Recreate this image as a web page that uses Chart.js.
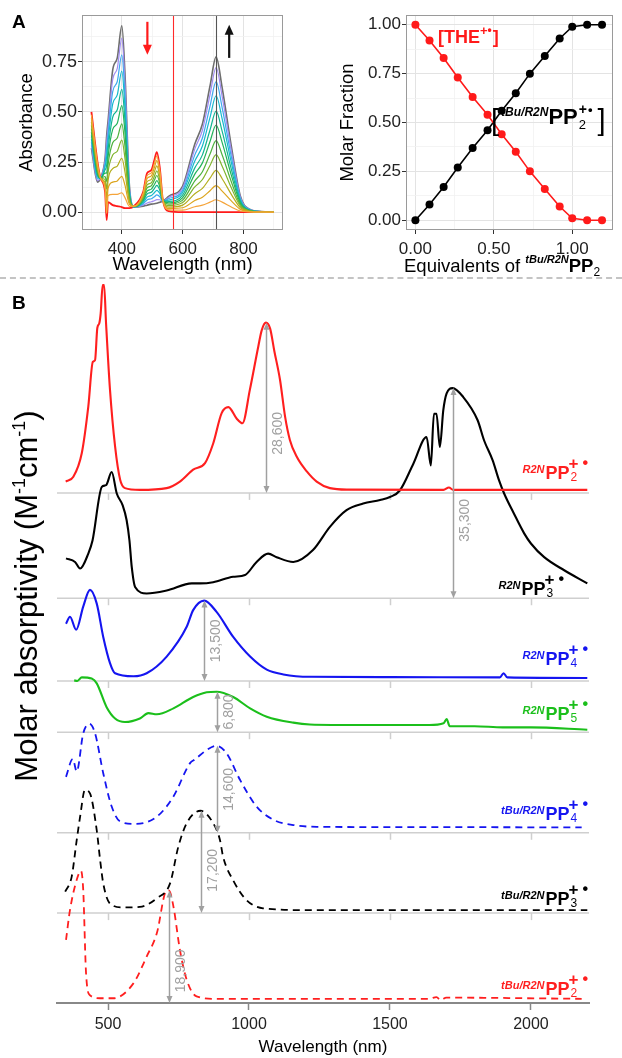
<!DOCTYPE html>
<html><head><meta charset="utf-8">
<script src="https://cdn.jsdelivr.net/npm/chart.js@4.4.1/dist/chart.umd.min.js"></script>
<style>
html,body{margin:0;padding:0;background:#fff;}
body{width:622px;height:1058px;position:relative;overflow:hidden}
canvas{position:absolute;display:block}
#sep{position:absolute;left:0;top:277px;width:622px;height:0;border-top:2px dashed #c4c4c4}
</style></head>
<body>
<canvas id="cA1" width="300" height="280" style="left:0px;top:0px"></canvas>
<canvas id="cA2" width="322" height="280" style="left:300px;top:0px"></canvas>
<div id="sep"></div>
<canvas id="cB" width="622" height="780" style="left:0px;top:282px"></canvas>
<script>
const FF = "'Liberation Sans', Arial, Helvetica, sans-serif";
Chart.defaults.font.family = FF;
Chart.defaults.animation = false;

// ================= Panel A (left): titration spectra =================
const wlTitr  = [300,320,330,345,350,355,370,385,400,410,425,440,470,483,497,507,515,525,535,555,600,640,665,690,710,730,760,790,820,860,900];
const absTHE  = [0.50,0.25,0.17,0.10,-0.04,0.05,0.035,0.03,0.025,0.02,0.02,0.03,0.10,0.195,0.21,0.26,0.30,0.22,0.06,0.005,0,0,0,0,0,0,0,0,0,0,0];
const absEq08 = [0.486,0.242,0.17,0.114,-0.006,0.083,0.089,0.089,0.097,0.074,0.029,0.03,0.094,0.182,0.196,0.243,0.280,0.206,0.06,0.011,0.010,0.027,0.035,0.050,0.062,0.050,0.026,0.006,0.001,0,0];
const absEq17 = [0.469,0.233,0.17,0.129,0.031,0.120,0.150,0.156,0.179,0.136,0.039,0.029,0.088,0.168,0.181,0.223,0.257,0.191,0.059,0.018,0.022,0.058,0.075,0.107,0.132,0.105,0.056,0.014,0.003,0.001,0];
const absEq27 = [0.451,0.223,0.17,0.146,0.073,0.161,0.217,0.230,0.269,0.204,0.050,0.029,0.081,0.152,0.164,0.201,0.231,0.174,0.059,0.025,0.035,0.092,0.119,0.170,0.209,0.167,0.089,0.022,0.004,0.001,0];
const absEq37 = [0.433,0.213,0.17,0.163,0.115,0.202,0.285,0.304,0.360,0.272,0.061,0.028,0.074,0.136,0.147,0.179,0.206,0.157,0.058,0.033,0.048,0.126,0.163,0.233,0.287,0.229,0.122,0.030,0.006,0.001,0];
const absEq46 = [0.417,0.204,0.17,0.178,0.153,0.239,0.346,0.370,0.441,0.333,0.071,0.028,0.068,0.121,0.132,0.160,0.183,0.142,0.058,0.040,0.060,0.156,0.202,0.290,0.357,0.285,0.152,0.037,0.007,0.001,0];
const absEq56 = [0.399,0.194,0.17,0.195,0.195,0.280,0.413,0.444,0.532,0.401,0.082,0.027,0.061,0.105,0.115,0.138,0.157,0.125,0.057,0.047,0.073,0.190,0.246,0.353,0.434,0.347,0.185,0.045,0.008,0.002,0];
const absEq65 = [0.383,0.185,0.17,0.211,0.233,0.317,0.474,0.511,0.613,0.462,0.092,0.027,0.054,0.091,0.099,0.118,0.134,0.109,0.057,0.054,0.085,0.221,0.286,0.410,0.504,0.403,0.215,0.052,0.010,0.002,0];
const absEq75 = [0.365,0.175,0.17,0.228,0.275,0.358,0.541,0.585,0.704,0.530,0.103,0.026,0.048,0.075,0.083,0.097,0.109,0.093,0.056,0.061,0.098,0.255,0.330,0.473,0.581,0.465,0.248,0.060,0.011,0.002,0];
const absEq84 = [0.349,0.166,0.17,0.243,0.313,0.394,0.602,0.652,0.785,0.591,0.112,0.026,0.041,0.061,0.067,0.077,0.086,0.077,0.056,0.068,0.109,0.286,0.370,0.529,0.651,0.521,0.277,0.067,0.013,0.003,0];
const absEq93 = [0.333,0.157,0.17,0.258,0.351,0.431,0.663,0.718,0.867,0.652,0.122,0.025,0.035,0.046,0.052,0.057,0.063,0.062,0.055,0.075,0.121,0.316,0.409,0.586,0.721,0.577,0.307,0.074,0.014,0.003,0];
const absFinal= [0.32,0.15,0.17,0.27,0.38,0.46,0.71,0.77,0.93,0.70,0.13,0.025,0.03,0.035,0.04,0.042,0.045,0.05,0.055,0.08,0.13,0.34,0.44,0.63,0.775,0.62,0.33,0.08,0.015,0.003,0];
const titrColors = ['#f5a43a','#dca51e','#b3ad1e','#80b42e','#4db23e','#22b35a','#13b592','#17b9cc','#3ea8ee','#a08cf2'];

const ticksA1x = [300,400,500,600,700,800,900], majA1x = [400,600,800];
const ticksA1y = [0,0.125,0.25,0.375,0.5,0.625,0.75,0.875], majA1y = [0,0.25,0.5,0.75];
const markerWl = [567,710], markerColor = ['#ff2a2a','#555555'];
const arrowAWl = [484,753], arrowAFrom = [0.95,0.77], arrowATo = [0.785,0.935], arrowAColor = ['#ff1a1a','#111111'];

// ================= Panel A (right): molar fractions =================
const equiv   = [0,0.09,0.18,0.27,0.365,0.46,0.55,0.64,0.73,0.825,0.92,1.0,1.095,1.19];
const fracPP  = [0,0.08,0.17,0.27,0.37,0.46,0.56,0.65,0.75,0.84,0.93,0.99,1.0,1.0];
const fracTHE = [1.0,0.92,0.83,0.73,0.63,0.54,0.44,0.35,0.25,0.16,0.07,0.01,0.0,0.0];
const ticksA2x = [0,0.25,0.5,0.75,1.0], majA2x = [0,0.5,1.0];
const ticksA2y = [0,0.125,0.25,0.375,0.5,0.625,0.75,0.875,1.0], majA2y = [0,0.25,0.5,0.75,1.0];

// ================= Panel B: stacked spectra (M^-1 cm^-1) =================
const wlPP2  = [350,377,407,430,446,454,462,469,474,481,486,493,507,525,543,560,613,708,755,802,844,873,903,927,956,977,1003,1033,1045,1060,1075,1090,1110,1128,1145,1169,1205,1240,1287,1350,1690,1709,1725,2200];
const epsPP2 = [1900,2700,6700,14500,22000,22300,27700,28500,30200,34900,34900,28500,17300,7800,2200,800,500,800,1900,3900,5000,8300,13400,14400,12500,11700,17300,24600,27300,28600,27600,23800,19000,12800,8900,6100,3600,1900,800,550,500,900,500,500];
const wlPP3  = [351,383,401,430,445,478,493,513,531,552,566,576,584,596,637,708,797,826,873,944,986,1027,1068,1098,1157,1227,1287,1346,1405,1465,1500,1535,1583,1630,1645,1656,1665,1677,1689,1701,1722,1760,1811,1834,1864,1887,1905,1940,1976,2000,2047,2118,2200];
const epsPP3 = [6700,6100,5000,7500,9700,18700,19000,21200,17600,15600,13100,9700,5300,1900,800,1300,2500,2500,2700,3600,3900,6100,7500,6900,6100,8100,12000,14800,15900,16500,17000,18100,22600,27100,22300,31000,31000,25400,31500,34400,35300,33800,29900,26500,23200,19800,17600,14200,10900,9200,6900,4700,2500];
const wlPP4  = [351,365,387,412,436,460,483,507,525,590,637,708,779,802,841,885,944,1004,1063,1122,1216,1500,1890,1903,1916,2200];
const epsPP4 = [9600,10800,8600,12500,15300,13000,7400,3000,1300,800,1300,4100,9100,11900,13500,11600,7400,4100,1900,1100,700,650,600,1300,600,500];
const wlPP5  = [380,391,407,442,460,495,525,560,613,643,673,732,802,850,885,944,1004,1063,1157,1216,1400,1640,1690,1701,1712,1800,1900,2000,2200];
const epsPP5 = [8700,8600,9200,9000,8200,4200,2300,1700,2300,3200,3000,4000,5900,6700,6800,5900,4000,2600,1600,1300,1200,1200,1500,2200,1000,1000,800,800,400];
const wlTPP4  = [351,375,389,412,434,454,483,513,543,596,673,732,791,808,850,885,920,968,1027,1086,1157,1240,1600,2180];
const epsTPP4 = [9400,12400,10300,16700,18300,16700,10000,4400,1900,1500,2700,6100,11700,12300,13900,14600,13400,8900,4400,2200,1300,1000,950,900];
const wlTPP3  = [348,371,389,401,418,436,460,472,483,507,554,613,673,720,749,779,828,873,897,908,944,991,1050,1216,2200];
const epsTPP3 = [3600,6100,12300,16200,20700,20100,13900,8900,5000,1600,950,1050,2500,5000,11100,15100,17200,15100,12300,9500,5500,2200,800,500,500];
const wlTPP2  = [351,365,389,404,412,422,436,472,519,590,637,673,708,716,732,755,779,814,885,1640,1665,1680,1700,2180];
const epsTPP2 = [10600,15600,20700,22200,19000,5000,1300,800,800,3300,7800,11700,18900,18900,16200,8900,3900,1100,700,700,1000,500,900,700];

const seriesPrefix = ['R2N','R2N','R2N','R2N','tBu/R2N','tBu/R2N','tBu/R2N'];
const seriesSub    = ['2','3','4','5','4','3','2'];
const seriesOffset = [85700,68000,54100,45500,28600,15100,0];   // vertical stacking offsets
const ticksB = [500,1000,1500,2000];
const annWl  = [1060,1722,841,885,885,828,716];
const annEps = [28600,35300,13500,6800,14600,17200,18900];
const annTextPos = [10000,13100,6750,3400,7300,7200,5400];

// ---------- style (kept apart from data) ----------
const seriesColor = ['#ff1f1f','#000000','#1515f0','#1bbf1b','#1515f0','#000000','#ff1f1f'];
const seriesDash  = [[],[],[],[],[7,5],[7,5],[7,5]];
const labelRise   = [14,3,16,12,13,8,8];
const labelRight  = [588,564,588,588,588,588,588];

// ---------- helpers ----------
function isMaj(list,v){ return list.some(m=>Math.abs(m-v)<1e-9); }
function setTicks(vals){ return function(scale){ scale.ticks = vals.map(v=>({value:v})); }; }
function richWidth(ctx,segs){ let w=0; for(const s of segs){ ctx.font=s.f; w += (s.dx||0) + (s.noAdv?0:ctx.measureText(s.t).width); } return w; }
function drawRich(ctx,segs,x,y,align,color){
  const w = richWidth(ctx,segs);
  let cx = align==='right' ? x-w : (align==='center' ? x-w/2 : x);
  ctx.save(); ctx.textBaseline='alphabetic'; ctx.textAlign='left';
  for(const s of segs){ ctx.font=s.f; ctx.fillStyle=s.c||color; cx += (s.dx||0); ctx.fillText(s.t,cx,y+(s.dy||0)); if(!s.noAdv) cx += ctx.measureText(s.t).width; }
  ctx.restore();
}
function arrowHead(ctx,x,y,dir,hl,hw){ ctx.beginPath(); ctx.moveTo(x,y); ctx.lineTo(x-hw,y-dir*hl); ctx.lineTo(x+hw,y-dir*hl); ctx.closePath(); ctx.fill(); }
function drawArrow(ctx,x,y0,y1,color,lw,hl,hw){
  const dir = Math.sign(y1-y0);
  ctx.strokeStyle=color; ctx.fillStyle=color; ctx.lineWidth=lw;
  ctx.beginPath(); ctx.moveTo(x,y0); ctx.lineTo(x,y1-dir*hl*0.7); ctx.stroke();
  arrowHead(ctx,x,y1,dir,hl,hw);
}
function gridOpts(maj){
  return { color:c=>isMaj(maj,c.tick.value)?'#e3e3e3':'#f1f1f1', lineWidth:c=>isMaj(maj,c.tick.value)?1:0.8,
           tickColor:c=>isMaj(maj,c.tick.value)?'#333':'rgba(0,0,0,0)', tickLength:4, drawTicks:true };
}

// ---------- Panel A1 ----------
const titrSeries = [absEq08,absEq17,absEq27,absEq37,absEq46,absEq56,absEq65,absEq75,absEq84,absEq93];
const dsA1 = titrSeries.map((arr,i)=>({data:wlTitr.map((w,j)=>({x:w,y:arr[j]})), borderColor:titrColors[i], borderWidth:1.2, pointRadius:0, cubicInterpolationMode:'monotone'}));
dsA1.push({data:wlTitr.map((w,j)=>({x:w,y:absFinal[j]})), borderColor:'#6e6e6e', borderWidth:1.6, pointRadius:0, cubicInterpolationMode:'monotone'});
dsA1.push({data:wlTitr.map((w,j)=>({x:w,y:absTHE[j]})), borderColor:'#ff1a1a', borderWidth:1.8, pointRadius:0, cubicInterpolationMode:'monotone'});

const plugA1 = {id:'pA1',
  afterDatasetsDraw(ch){
    const {ctx,chartArea:a,scales:{x,y}} = ch; ctx.save();
    markerWl.forEach((w,i)=>{ const px=Math.round(x.getPixelForValue(w))+0.5; ctx.strokeStyle=markerColor[i]; ctx.lineWidth=1.1; ctx.beginPath(); ctx.moveTo(px,a.top); ctx.lineTo(px,a.bottom); ctx.stroke(); });
    arrowAWl.forEach((w,i)=> drawArrow(ctx,x.getPixelForValue(w),y.getPixelForValue(arrowAFrom[i]),y.getPixelForValue(arrowATo[i]),arrowAColor[i],2.2,10,4.5));
    ctx.strokeStyle='#9a9a9a'; ctx.lineWidth=1; ctx.strokeRect(a.left+0.5,a.top+0.5,a.width-1,a.height-1);
    ctx.restore();
  },
  afterDraw(ch){ const ctx=ch.ctx; ctx.save(); ctx.font='bold 19px '+FF; ctx.fillStyle='#000'; ctx.fillText('A',12,28); ctx.restore(); }
};

new Chart(document.getElementById('cA1'),{
  type:'line', data:{datasets:dsA1}, plugins:[plugA1],
  options:{responsive:false, animation:false, layout:{padding:{left:0,right:17,top:15,bottom:0}},
    plugins:{legend:{display:false},tooltip:{enabled:false}},
    scales:{
      x:{type:'linear',min:269,max:930,afterBuildTicks:setTicks(ticksA1x),afterFit:s=>{s.height=50;},
         grid:gridOpts(majA1x),border:{display:false},
         ticks:{autoSkip:false,maxRotation:0,padding:5,font:{size:17},color:'#222',callback:v=>isMaj(majA1x,v)?String(v):''},
         title:{display:true,text:'Wavelength (nm)',font:{size:18.5},color:'#000',padding:{top:0,bottom:4}}},
      y:{type:'linear',min:-0.089,max:0.984,afterBuildTicks:setTicks(ticksA1y),afterFit:s=>{s.width=82;},
         grid:gridOpts(majA1y),border:{display:false},
         ticks:{autoSkip:false,padding:1,font:{size:18},color:'#222',callback:v=>isMaj(majA1y,v)?v.toFixed(2):''},
         title:{display:true,text:'Absorbance',font:{size:18.5},color:'#000',padding:{top:16,bottom:0}}}
    }}
});

// ---------- Panel A2 ----------
const plugA2 = {id:'pA2',
  afterDatasetsDraw(ch){ const {ctx,chartArea:a}=ch; ctx.save(); ctx.strokeStyle='#9a9a9a'; ctx.lineWidth=1; ctx.strokeRect(a.left+0.5,a.top+0.5,a.width-1,a.height-1); ctx.restore(); },
  afterDraw(ch){
    const ctx=ch.ctx;
    drawRich(ctx,[{t:'[',f:'bold 18px '+FF},{t:'THE',f:'bold 18px '+FF},{t:'+',f:'bold 13px '+FF,dy:-8},{t:'•',f:'bold 12px '+FF,dy:-9},{t:']',f:'bold 18px '+FF,dx:1}],138,43,'left','#ff1a1a');
    drawRich(ctx,[{t:'[',f:'29px '+FF,dy:6},{t:'tBu/R2N',f:'italic bold 12px '+FF,dy:-8,dx:2},{t:'PP',f:'bold 22px '+FF},
                  {t:'2',f:'13px '+FF,dy:5,dx:1,noAdv:true},{t:'+',f:'bold 14px '+FF,dy:-10,dx:0},{t:'•',f:'bold 13px '+FF,dy:-10,dx:1},{t:']',f:'29px '+FF,dy:6,dx:5}],191,124,'left','#000');
    drawRich(ctx,[{t:'Equivalents of ',f:'18.5px '+FF},{t:'tBu/R2N',f:'italic bold 11px '+FF,dy:-9},{t:'PP',f:'bold 18.5px '+FF},{t:'2',f:'12px '+FF,dy:4}],104,272,'left','#000');
  }
};
new Chart(document.getElementById('cA2'),{
  type:'line', plugins:[plugA2],
  data:{datasets:[
    {data:equiv.map((e,i)=>({x:e,y:fracTHE[i]})),borderColor:'#ff1a1a',backgroundColor:'#ff1a1a',pointBackgroundColor:'#ff1a1a',pointBorderWidth:0,pointRadius:4,borderWidth:1.6,tension:0},
    {data:equiv.map((e,i)=>({x:e,y:fracPP[i]})),borderColor:'#000',backgroundColor:'#000',pointBackgroundColor:'#000',pointBorderWidth:0,pointRadius:4,borderWidth:1.6,tension:0}
  ]},
  options:{responsive:false, animation:false, layout:{padding:{left:0,right:9,top:15,bottom:0}},
    plugins:{legend:{display:false},tooltip:{enabled:false}},
    scales:{
      x:{type:'linear',min:-0.06,max:1.26,afterBuildTicks:setTicks(ticksA2x),afterFit:s=>{s.height=50;},
         grid:gridOpts(majA2x),border:{display:false},
         ticks:{autoSkip:false,maxRotation:0,padding:5,font:{size:17},color:'#222',callback:v=>isMaj(majA2x,v)?v.toFixed(2):''}},
      y:{type:'linear',min:-0.05,max:1.05,afterBuildTicks:setTicks(ticksA2y),afterFit:s=>{s.width=106;},
         grid:gridOpts(majA2y),border:{display:false},
         ticks:{autoSkip:false,padding:1,font:{size:17},color:'#222',callback:v=>isMaj(majA2y,v)?v.toFixed(2):''},
         title:{display:true,text:'Molar Fraction',font:{size:18.5},color:'#000',padding:{top:37,bottom:0}}}
    }}
});

// ---------- Panel B ----------
const wlB  = [wlPP2,wlPP3,wlPP4,wlPP5,wlTPP4,wlTPP3,wlTPP2];
const epsB = [epsPP2,epsPP3,epsPP4,epsPP5,epsTPP4,epsTPP3,epsTPP2];
const dsB = wlB.map((wl,i)=>({
  data: wl.map((w,j)=>({x:w, y:epsB[i][j]+seriesOffset[i]})),
  borderColor:seriesColor[i], borderWidth:i>=4?1.8:2.1, borderDash:seriesDash[i], pointRadius:0, cubicInterpolationMode:'monotone'
}));

const plugB = {id:'pB',
  beforeDatasetsDraw(ch){
    const {ctx,chartArea:a,scales:{x,y}}=ch; ctx.save(); ctx.strokeStyle='#cfcfcf'; ctx.lineWidth=1.5;
    seriesOffset.forEach(off=>{ if(off===0) return; const py=y.getPixelForValue(off);
      ctx.beginPath(); ctx.moveTo(a.left,py); ctx.lineTo(a.right,py); ctx.stroke();
      ticksB.forEach(t=>{ const px=Math.round(x.getPixelForValue(t))+0.5; ctx.beginPath(); ctx.moveTo(px,py); ctx.lineTo(px,py+7); ctx.stroke(); });
    });
    ctx.restore();
  },
  afterDatasetsDraw(ch){
    const {ctx,scales:{x,y}}=ch; ctx.save();
    annWl.forEach((w,i)=>{
      const px=Math.round(x.getPixelForValue(w))+0.5, off=seriesOffset[i];
      const yb=y.getPixelForValue(off), yt=y.getPixelForValue(off+annEps[i]);
      ctx.strokeStyle='#a0a0a0'; ctx.fillStyle='#a0a0a0'; ctx.lineWidth=1.5;
      ctx.beginPath(); ctx.moveTo(px,yb-5); ctx.lineTo(px,yt+5); ctx.stroke();
      arrowHead(ctx,px,yt,-1,7,3); arrowHead(ctx,px,yb,1,7,3);
      const ty=y.getPixelForValue(off+annTextPos[i]);
      ctx.save(); ctx.translate(px+15,ty); ctx.rotate(-Math.PI/2); ctx.font='14px '+FF; ctx.textAlign='center'; ctx.textBaseline='alphabetic';
      ctx.fillStyle='#a0a0a0'; ctx.fillText(annEps[i].toLocaleString('en-US'),0,0); ctx.restore();
    });
    seriesPrefix.forEach((p,i)=>{
      const by=y.getPixelForValue(seriesOffset[i])-labelRise[i];
      drawRich(ctx,[{t:p,f:'italic bold 11px '+FF,dy:-6},{t:'PP',f:'bold 18px '+FF,dx:1},
        {t:seriesSub[i],f:'12px '+FF,dy:2,dx:1,noAdv:true},{t:'+',f:'bold 17px '+FF,dy:-10,dx:-2},{t:'•',f:'bold 16px '+FF,dy:-11,dx:4}],
        labelRight[i],by,'right',seriesColor[i]);
    });
    ctx.restore();
  },
  afterDraw(ch){
    const ctx=ch.ctx; ctx.save();
    ctx.font='bold 19px '+FF; ctx.fillStyle='#000'; ctx.fillText('B',12,27);
    ctx.translate(37,314); ctx.rotate(-Math.PI/2);
    drawRich(ctx,[{t:'Molar absorptivity (M',f:'31px '+FF},{t:'-1',f:'18px '+FF,dy:-12},{t:'cm',f:'31px '+FF},{t:'-1',f:'18px '+FF,dy:-12},{t:')',f:'31px '+FF}],0,0,'center','#000');
    ctx.restore();
  }
};

new Chart(document.getElementById('cB'),{
  type:'line', data:{datasets:dsB}, plugins:[plugB],
  options:{responsive:false, animation:false, layout:{padding:{left:57,right:33,top:1,bottom:0}},
    plugins:{legend:{display:false},tooltip:{enabled:false}},
    scales:{
      x:{type:'linear',min:319,max:2206,afterBuildTicks:setTicks(ticksB),afterFit:s=>{s.height=59;},
         grid:{drawOnChartArea:false,drawTicks:true,tickLength:7,tickColor:'#888',tickWidth:1.5},
         border:{display:true,color:'#888',width:2},
         ticks:{autoSkip:false,maxRotation:0,padding:5,font:{size:16},color:'#222',callback:v=>String(v)},
         title:{display:true,text:'Wavelength (nm)',font:{size:17},color:'#000',padding:{top:0,bottom:4}}},
      y:{type:'linear',display:false,min:0,max:120960}
    }}
});
</script>
</body></html>
